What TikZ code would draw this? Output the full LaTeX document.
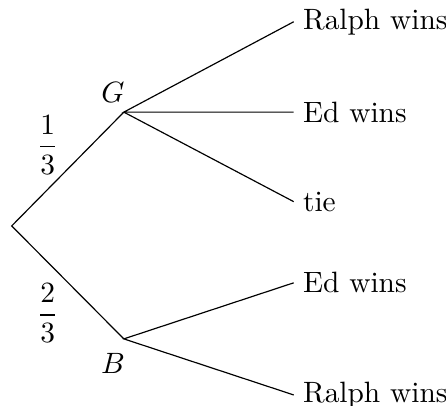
\documentclass[tikz,border=0pt]{standalone}
\usepackage{amsmath}
\usepackage{tikz}
\usetikzlibrary{positioning}

\begin{document}
\begin{tikzpicture}[auto,leaf/.style={anchor=west,inner sep=3pt}]
    \useasboundingbox (-0.14,-2.15) rectangle (5.19,2.70);
    \coordinate (root) at (0,0);
    \coordinate (g) at (1.34,1.36);
    \coordinate (b) at (1.34,-1.35);
    \node[leaf] (gr) at (3.37,2.44) {Ralph wins};
    \node[leaf] (ge) at (3.37,1.36) {Ed wins};
    \node[leaf] (gt) at (3.37,0.29) {tie};
    \node[leaf] (be) at (3.37,-0.68) {Ed wins};
    \node[leaf] (br) at (3.37,-2.02) {Ralph wins};
    \node (glab) at (1.21,1.59) {$G$};
    \node (blab) at (1.21,-1.64) {$B$};
    \node (pg) at (0.43,0.97) {$\dfrac{1}{3}$};
    \node (pb) at (0.43,-1.04) {$\dfrac{2}{3}$};
    \draw (g) -- (root) -- (b);
    \draw (gr.west) -- (g) -- (ge.west);
    \draw (g) -- (gt.west);
    \draw (be.west) -- (b) -- (br.west);
  \end{tikzpicture}
\end{document}
